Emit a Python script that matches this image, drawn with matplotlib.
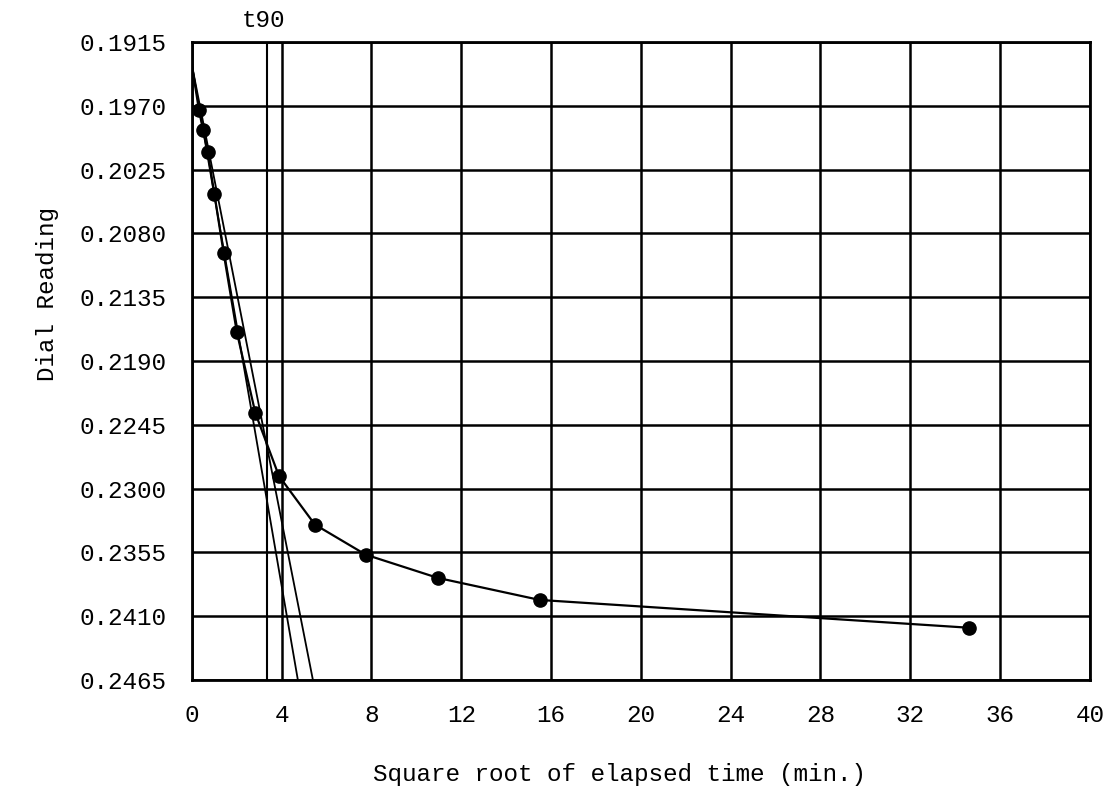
import numpy as np
import matplotlib
matplotlib.use('Agg')
import matplotlib.pyplot as plt

# ── data ─────────────────────────────────────────────────────────────────────
# square root of elapsed time (min.) for each dial reading
sqrt_time = [0.0, 0.316, 0.5, 0.707, 1.0, 1.414, 2.0, 2.828, 3.873,
             5.477, 7.746, 10.954, 15.492, 34.64]
dial_reading = [0.1935, 0.1974, 0.1991, 0.2010, 0.2046, 0.2097, 0.2165,
                0.2235, 0.2289, 0.2331, 0.2357, 0.2377, 0.2396, 0.2420]

# initial tangent line and the 1.15x line, both from corrected zero reading
tangent_x = [0.0, 4.72]
slope_x = [0.0, 5.39]
line_y = [0.1935, 0.2465]

t90_x = 3.35

x_ticks = np.arange(0, 41, 4)
y_ticks = [0.1915, 0.1970, 0.2025, 0.2080, 0.2135, 0.2190, 0.2245,
           0.2300, 0.2355, 0.2410, 0.2465]

FONT = "Liberation Mono"
FS = 17.5
INK = "black"

fig = plt.figure(figsize=(11.03, 7.87), dpi=100, facecolor="white")
ax = fig.add_axes([0.174, 0.136, 0.814, 0.8106])

# grid
ax.set_xticks(x_ticks)
ax.set_yticks(y_ticks)
ax.grid(True, color=INK, linewidth=1.8, zorder=0)
ax.set_axisbelow(True)

# measured curve (first point is the zero reading, no marker)
ax.plot(sqrt_time, dial_reading, color=INK, linewidth=1.6, zorder=3)
ax.plot(sqrt_time[1:], dial_reading[1:], 'o', color=INK, markersize=9.5, zorder=4)

# fitting lines
ax.plot(tangent_x, line_y, color=INK, linewidth=1.3, zorder=2)
ax.plot(slope_x, line_y, color=INK, linewidth=1.3, zorder=2)
ax.axvline(t90_x, color=INK, linewidth=1.5, zorder=2)
ax.text(t90_x - 0.15, 0.1915 - 0.0009, "t90", ha='center', va='bottom',
        fontsize=FS, fontfamily=FONT, color=INK)

ax.set_xlim(0, 40)
ax.set_ylim(0.2465, 0.1915)

ax.set_xticklabels([str(v) for v in x_ticks])
ax.set_yticklabels([f"{v:.4f}" for v in y_ticks])
ax.tick_params(axis='both', length=0, labelsize=FS, colors=INK)
ax.tick_params(axis='x', pad=17)
ax.tick_params(axis='y', pad=18)
for lbl in ax.get_xticklabels() + ax.get_yticklabels():
    lbl.set_fontfamily(FONT)

for spine in ax.spines.values():
    spine.set_linewidth(2.0)
    spine.set_color(INK)

ax.set_xlabel("Square root of elapsed time (min.)", fontsize=FS,
              fontfamily=FONT, color=INK)
ax.xaxis.set_label_coords(0.476, -0.13)
ax.set_ylabel("Dial Reading", fontsize=FS, fontfamily=FONT, color=INK)
ax.yaxis.set_label_coords(-0.148, 0.605)

fig.savefig("out.png", dpi=100, facecolor="white")
plt.close(fig)
